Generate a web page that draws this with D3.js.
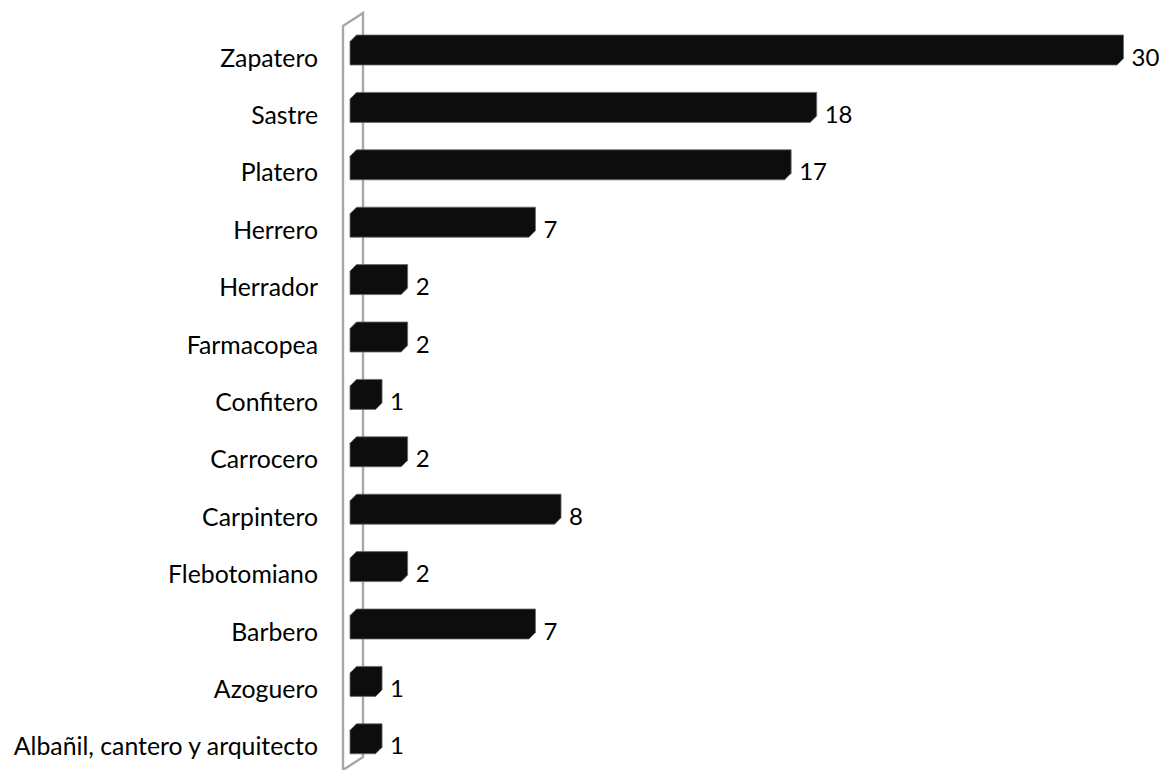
<!DOCTYPE html>
<html>
<head>
<meta charset="utf-8">
<script src="https://cdn.jsdelivr.net/npm/d3@7"></script>
<style>
  html, body { margin: 0; padding: 0; background: #fff; }
  svg { display: block; }
  text { font-family: Lato, "Open Sans", sans-serif; fill: #000; }
</style>
</head>
<body>
<svg id="chart" width="1160" height="770"></svg>
<script>
// Oficios y número de artesanos
const categories = [
  "Zapatero", "Sastre", "Platero", "Herrero", "Herrador", "Farmacopea",
  "Confitero", "Carrocero", "Carpintero", "Flebotomiano", "Barbero",
  "Azoguero", "Albañil, cantero y arquitecto"
];
const values = [30, 18, 17, 7, 2, 2, 1, 2, 8, 2, 7, 1, 1];

const W = 1160, H = 770;
const svg = d3.select("#chart");

// Layout of the plot area
const x0 = 350, x1 = 1117;        // value axis, front face of bars
const yTop = 21.3, yBot = 767.5;  // category band range
const depth = 6.5;                // 3D bar depth (offset up/right)
const barH = 30;                  // silhouette height of each bar

const x = d3.scaleLinear().domain([0, 30]).range([x0, x1]);
const y = d3.scaleBand().domain(categories).range([yTop, yBot]).padding(0);
const step = y.step();

// Back wall of the 3D plot (thin gray frame)
const wallL = 343, wallR = 363;
svg.append("path")
  .attr("fill", "none")
  .attr("stroke", "#a8a8a8")
  .attr("stroke-width", 2.4)
  .attr("d", `M${wallL},${H + 5} L${wallL},26 L${wallR},13 L${wallR},757 L${wallL},770`);

// Bars: silhouette of a 3D box (front, top and side faces, all dark)
const bars = svg.append("g");
categories.forEach((c, i) => {
  const v = values[i];
  const top = y(c) + (step - barH) / 2;
  const bottom = top + barH;
  const xl = x(0), xr = x(v);
  const pts = [
    [xl, top + depth],
    [xl + depth, top],
    [xr + depth, top],
    [xr + depth, bottom - depth],
    [xr, bottom],
    [xl, bottom]
  ];
  bars.append("path")
    .attr("d", d3.line()(pts) + "Z")
    .attr("fill", "#0d0d0d")
    .attr("stroke", "#6a6a6a")
    .attr("stroke-width", 0.8)
    .attr("stroke-linejoin", "round");

  // Value label
  svg.append("text")
    .attr("x", xr + depth + 8)
    .attr("y", top + barH / 2 + 6)
    .attr("dominant-baseline", "central")
    .attr("font-size", 24)
    .text(v);
});

// Category labels
svg.append("g").selectAll("text")
  .data(categories)
  .join("text")
  .attr("x", 318)
  .attr("y", d => y(d) + step / 2 + 7)
  .attr("text-anchor", "end")
  .attr("dominant-baseline", "central")
  .attr("font-size", 24.8)
  .text(d => d);
</script>
</body>
</html>
